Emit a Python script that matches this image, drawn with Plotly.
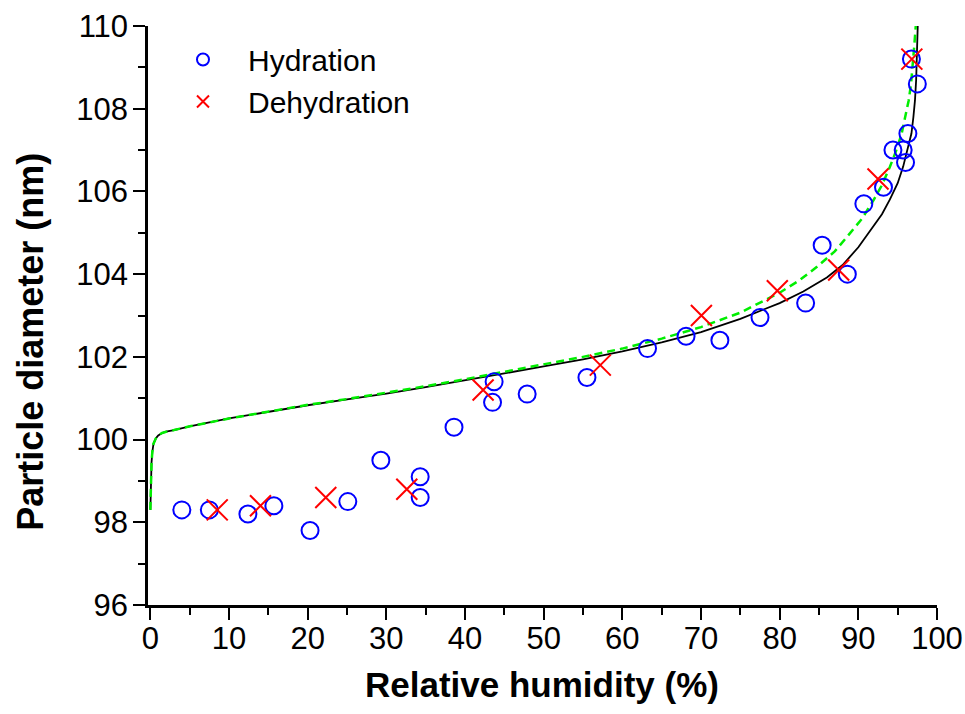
import plotly.graph_objects as go

# Measured data
hyd_x = [4.0, 7.5, 12.4, 15.7, 20.3, 25.1, 29.3, 34.3, 34.3, 38.6, 43.5, 43.7, 47.9,
         55.5, 63.2, 68.1, 72.4, 77.5, 83.3, 85.4, 88.6, 90.7, 93.2, 94.4, 95.7,
         96.0, 96.3, 96.75, 97.5]
hyd_y = [98.3, 98.3, 98.2, 98.4, 97.8, 98.5, 99.5, 99.1, 98.6, 100.3, 100.9, 101.4, 101.1,
         101.5, 102.2, 102.5, 102.4, 102.95, 103.3, 104.7, 104.0, 105.7, 106.1, 107.0, 107.0,
         106.7, 107.4, 109.2, 108.6]

deh_x = [8.5, 14.0, 22.3, 32.6, 42.3, 57.2, 70.05, 79.7, 87.5, 92.5, 96.8]
deh_y = [98.3, 98.4, 98.6, 98.8, 101.2, 101.8, 103.0, 103.6, 104.1, 106.3, 109.2]

# Model curve (black solid)
fit_x = [0.0, 0.03, 0.08, 0.15, 0.25, 0.4, 0.7, 1.0, 1.5, 2.0, 3.0, 5.0, 10, 15, 20, 25,
         30, 35, 40, 45, 50, 55, 60, 65, 70, 75, 80, 83, 86, 88, 90, 92, 93, 94, 95,
         95.7, 96.2, 96.75, 97.0, 97.2, 97.35, 97.45, 97.55]
fit_y = [98.3, 98.8, 99.2, 99.45, 99.7, 99.9, 100.03, 100.1, 100.16, 100.19, 100.23, 100.32,
         100.51, 100.67, 100.83, 100.97, 101.11, 101.27, 101.43, 101.6, 101.77, 101.94,
         102.13, 102.35, 102.6, 102.92, 103.3, 103.58, 103.92, 104.22, 104.65, 105.2, 105.45,
         105.8, 106.2, 106.6, 107.0, 107.4, 107.8, 108.2, 108.7, 109.3, 110.0]

# Model curve (green dashed)
alt_x = [0.0, 0.03, 0.08, 0.15, 0.25, 0.4, 0.7, 1.0, 1.5, 2.0, 3.0, 5.0, 10, 15, 20, 25,
         30, 35, 40, 45, 50, 55, 60, 65, 70, 75, 80, 82.5, 84.7, 87.0, 88.9, 90.5, 91.9,
         93.0, 94.0, 94.8, 95.5, 96.0, 96.4, 96.7, 96.9, 97.1, 97.3]
alt_y = [98.3, 98.8, 99.2, 99.45, 99.7, 99.9, 100.03, 100.1, 100.16, 100.19, 100.23, 100.32,
         100.51, 100.68, 100.84, 100.98, 101.13, 101.29, 101.46, 101.64, 101.82, 102.0,
         102.2, 102.44, 102.72, 103.07, 103.55, 103.85, 104.17, 104.55, 104.98, 105.35,
         105.78, 106.15, 106.59, 106.98, 107.39, 107.8, 108.2, 108.6, 109.0, 109.5, 110.0]

x_ticks = [0, 10, 20, 30, 40, 50, 60, 70, 80, 90, 100]
y_ticks = [96, 98, 100, 102, 104, 106, 108, 110]

FONT = "Arial, Liberation Sans, sans-serif"

fig = go.Figure()
fig.add_trace(go.Scatter(x=fit_x, y=fit_y, mode="lines", showlegend=False,
                         line=dict(color="black", width=1.8)))
fig.add_trace(go.Scatter(x=alt_x, y=alt_y, mode="lines", showlegend=False,
                         line=dict(color="#00ee00", width=2.5, dash="8px,5px")))
fig.add_trace(go.Scatter(x=hyd_x, y=hyd_y, mode="markers", name="Hydration",
                         marker=dict(symbol="circle-open", size=17, color="#0000ff",
                                     line=dict(width=2, color="#0000ff"))))
fig.add_trace(go.Scatter(x=deh_x, y=deh_y, mode="markers", name="Dehydration",
                         marker=dict(symbol="x-thin-open", size=21, color="#ff0000",
                                     line=dict(width=2, color="#ff0000"))))

axis_common = dict(showgrid=False, zeroline=False, showline=True, linecolor="black",
                   linewidth=2.5, ticks="outside", ticklen=12, tickwidth=2, automargin=False,
                   tickcolor="black", tickfont=dict(family=FONT, size=31, color="black"))

fig.update_xaxes(range=[-0.3, 100], tickvals=x_ticks, ticktext=[str(v) for v in x_ticks],
                 minor=dict(ticks="outside", ticklen=7, tickwidth=2, tickcolor="black", dtick=5, tick0=0),
                 ticklabelstandoff=-8, **axis_common)
fig.update_yaxes(range=[96, 110], tickvals=y_ticks, ticktext=[str(v) for v in y_ticks],
                 minor=dict(ticks="outside", ticklen=7, tickwidth=2, tickcolor="black", dtick=1, tick0=96),
                 ticklabelstandoff=-1, **axis_common)

L, R, T, B = 148, 27.7, 25.5, 109
W, H = 965, 714
pw, ph = W - L - R, H - T - B

fig.add_annotation(text="<b>Relative humidity (%)</b>", xref="paper", yref="paper",
                   x=(542.5 - L) / pw, y=(605 - 685) / ph, xanchor="center", yanchor="middle",
                   showarrow=False, font=dict(family=FONT, size=35, color="black"))
fig.add_annotation(text="<b>Particle diameter (nm)</b>", xref="paper", yref="paper",
                   x=(30.5 - L) / pw, y=(605 - 342) / ph, xanchor="center", yanchor="middle",
                   textangle=-90, showarrow=False, font=dict(family=FONT, size=36, color="black"))

fig.update_layout(
    width=W, height=H,
    margin=dict(l=L, r=R, t=T, b=B, autoexpand=False),
    paper_bgcolor="white", plot_bgcolor="white",
    showlegend=True,
    legend=dict(x=(158 - L) / pw, y=(605 - 33) / ph, xanchor="left", yanchor="top",
                bgcolor="rgba(0,0,0,0)", borderwidth=0, itemwidth=80, itemsizing="constant",
                font=dict(family=FONT, size=30, color="black"), tracegroupgap=0),
)

fig.write_html("out.html", config={"displayModeBar": False},
               post_script="document.body.style.margin='0';document.body.style.overflow='hidden';")
